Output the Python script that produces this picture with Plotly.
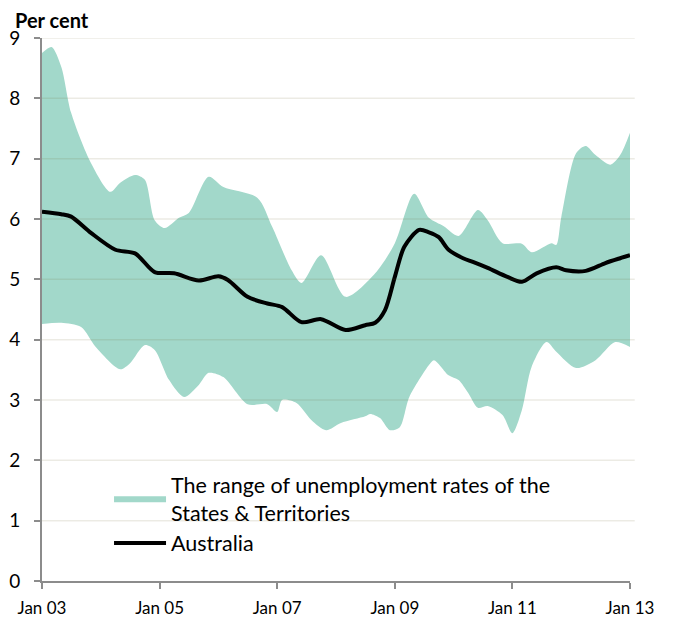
import plotly.graph_objects as go

# ---- data ----
upper_dates = ["2003-01-01","2003-03-01","2003-05-01","2003-07-01","2003-11-01","2004-03-01","2004-05-01",
               "2004-08-01","2004-10-01","2004-12-01","2005-02-01","2005-05-01","2005-07-01","2005-11-01",
               "2006-02-01","2006-09-01","2006-12-01","2007-04-01","2007-06-01","2007-10-01","2008-03-01",
               "2008-09-01","2009-01-01","2009-05-01","2009-08-01","2009-11-01","2010-02-01","2010-06-01",
               "2010-08-01","2010-11-01","2011-03-01","2011-05-01","2011-09-01","2011-10-01","2011-11-01",
               "2012-02-01","2012-04-01","2012-06-01","2012-09-01","2012-11-01","2013-01-01"]
upper_vals = [8.75, 8.85, 8.52, 7.76, 6.93, 6.45, 6.6,
              6.73, 6.65, 5.98, 5.85, 6.02, 6.1, 6.7,
              6.53, 6.35, 5.87, 5.15, 4.94, 5.4, 4.71,
              5.1, 5.6, 6.42, 6.02, 5.88, 5.72, 6.15,
              5.98, 5.6, 5.59, 5.45, 5.6, 5.57, 6.03,
              7.09, 7.21, 7.06, 6.9, 7.06, 7.43]

lower_dates = ["2003-01-01","2003-05-01","2003-09-01","2003-12-01","2004-05-01","2004-07-01","2004-10-01",
               "2004-12-01","2005-03-01","2005-06-01","2005-09-01","2005-11-01","2006-02-01","2006-07-01",
               "2006-11-01","2007-01-01","2007-02-01","2007-05-01","2007-08-01","2007-11-01","2008-02-01",
               "2008-07-01","2008-08-01","2008-10-01","2008-12-01","2009-02-01","2009-04-01","2009-08-01",
               "2009-09-01","2009-12-01","2010-02-01","2010-04-01","2010-06-01","2010-08-01","2010-11-01",
               "2011-01-01","2011-03-01","2011-05-01","2011-08-01","2011-10-01","2012-02-01","2012-06-01",
               "2012-10-01","2013-01-01"]
lower_vals = [4.26, 4.28, 4.21, 3.88, 3.51, 3.61, 3.91,
              3.83, 3.33, 3.05, 3.25, 3.45, 3.38, 2.93,
              2.93, 2.8, 3.0, 2.95, 2.67, 2.5, 2.62,
              2.73, 2.77, 2.7, 2.5, 2.55, 3.05, 3.58,
              3.66, 3.41, 3.33, 3.12, 2.87, 2.9, 2.75,
              2.45, 2.83, 3.55, 3.96, 3.80, 3.53, 3.66,
              3.96, 3.88]

aus_dates = ["2003-01-01","2003-05-01","2003-07-01","2003-11-01","2004-04-01","2004-08-01","2004-12-01",
             "2005-04-01","2005-09-01","2006-01-01","2006-03-01","2006-07-01","2006-11-01","2007-02-01",
             "2007-06-01","2007-10-01","2008-03-01","2008-07-01","2008-09-01","2008-11-01","2009-01-01",
             "2009-03-01","2009-06-01","2009-08-01","2009-10-01","2009-12-01","2010-03-01","2010-05-01",
             "2010-08-01","2010-12-01","2011-03-01","2011-06-01","2011-10-01","2011-12-01","2012-04-01",
             "2012-08-01","2012-11-01","2013-01-01"]
aus_vals = [6.12, 6.08, 6.04, 5.77, 5.49, 5.43, 5.12,
            5.1, 4.98, 5.05, 4.99, 4.71, 4.6, 4.54,
            4.29, 4.34, 4.16, 4.24, 4.28, 4.49, 5.04,
            5.54, 5.82, 5.78, 5.7, 5.49, 5.35, 5.29,
            5.19, 5.04, 4.96, 5.1, 5.2, 5.15, 5.14,
            5.27, 5.35, 5.4]

x_tick_dates = ["2003-01-01","2005-01-01","2007-01-01","2009-01-01","2011-01-01","2013-01-01"]
x_tick_labels = ["Jan 03","Jan 05","Jan 07","Jan 09","Jan 11","Jan 13"]
y_ticks = [0, 1, 2, 3, 4, 5, 6, 7, 8, 9]

range_name = "The range of unemployment rates of the<br>States & Territories"
aus_name = "Australia"

FILL = "#A2D8CA"
FONT = "Lato"

fig = go.Figure()
fig.add_trace(go.Scatter(x=lower_dates, y=lower_vals, mode="lines",
                         line=dict(width=0, shape="spline", smoothing=0.8, color=FILL),
                         showlegend=False, hoverinfo="skip"))
fig.add_trace(go.Scatter(x=upper_dates, y=upper_vals, mode="lines", fill="tonexty",
                         fillcolor=FILL, line=dict(width=0, shape="spline", smoothing=0.8, color=FILL),
                         name=range_name))
fig.add_trace(go.Scatter(x=aus_dates, y=aus_vals, mode="lines",
                         line=dict(width=4, color="black", shape="spline", smoothing=0.8),
                         name=aus_name))

# gridlines drawn over the shaded range, as in the reference
for yv in y_ticks[1:]:
    fig.add_shape(type="line", xref="paper", yref="y", x0=0, x1=1.008, y0=yv, y1=yv,
                  line=dict(color="rgba(110,100,50,0.13)", width=1.5), layer="above")

# the page body has an 8px margin, so the margins compensate for it
fig.update_layout(
    width=676, height=624,
    margin=dict(l=34, r=54, t=30, b=51, autoexpand=False),
    plot_bgcolor="white", paper_bgcolor="white",
    font=dict(family=FONT, size=17, color="black"),
    showlegend=True,
    legend=dict(x=0.114, y=0.216, xanchor="left", yanchor="top",
                bgcolor="rgba(0,0,0,0)", font=dict(size=21.5), itemwidth=52,
                tracegroupgap=0, traceorder="normal"),
    annotations=[dict(text="<b>Per cent</b>", xref="paper", yref="paper", x=-0.05, y=1.0,
                      xanchor="left", yanchor="bottom", showarrow=False,
                      font=dict(size=20, family=FONT), yshift=4)],
)
fig.update_xaxes(type="date", range=["2003-01-01", "2013-01-01"], automargin=False,
                 tickvals=x_tick_dates, ticktext=x_tick_labels,
                 showgrid=False, showline=True, linecolor="#8c8c8c", linewidth=2,
                 ticks="outside", ticklen=6, tickcolor="#8c8c8c", tickwidth=2,
                 zeroline=False, tickfont=dict(size=17), ticklabelstandoff=5)
fig.update_yaxes(range=[0, 9], tickvals=y_ticks, showgrid=False, automargin=False,
                 showline=True, linecolor="#8c8c8c", linewidth=2,
                 ticks="outside", ticklen=6, tickcolor="#8c8c8c", tickwidth=2,
                 zeroline=False, tickfont=dict(size=19), ticklabelstandoff=10)

fig.write_html("out.html")
